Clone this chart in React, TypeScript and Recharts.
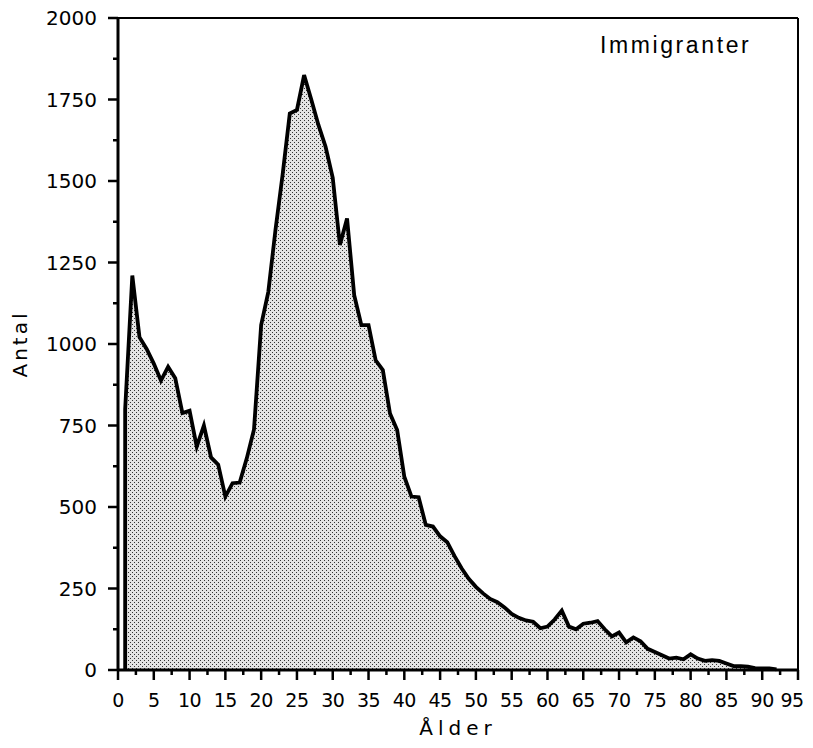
import React from "react";
import { Area, AreaChart, ReferenceLine, XAxis, YAxis } from "recharts";

// Ålder (ettårsklasser) och antal immigranter
const AGES = [
  1, 2, 3, 4, 5, 6, 7, 8, 9, 10, 11, 12, 13, 14, 15, 16, 17, 18, 19, 20,
  21, 22, 23, 24, 25, 26, 27, 28, 29, 30, 31, 32, 33, 34, 35, 36, 37, 38, 39, 40,
  41, 42, 43, 44, 45, 46, 47, 48, 49, 50, 51, 52, 53, 54, 55, 56, 57, 58, 59, 60,
  61, 62, 63, 64, 65, 66, 67, 68, 69, 70, 71, 72, 73, 74, 75, 76, 77, 78, 79, 80,
  81, 82, 83, 84, 85, 86, 87, 88, 89, 90, 91, 92,
];

const ANTAL = [
  800, 1210, 1021, 985, 940, 888, 930, 895, 788, 795,
  685, 750, 652, 630, 532, 573, 575, 650, 738, 1058,
  1160, 1350, 1520, 1707, 1718, 1825, 1750, 1672, 1605, 1510,
  1304, 1385, 1150, 1058, 1058, 950, 920, 787, 736, 593,
  532, 530, 445, 440, 410, 392, 350, 312, 280, 255,
  235, 218, 208, 192, 172, 160, 152, 148, 128, 133,
  155, 182, 133, 125, 142, 145, 150, 125, 103, 115,
  85, 100, 88, 65, 55, 45, 35, 38, 33, 48,
  35, 28, 30, 28, 20, 12, 12, 10, 6, 5,
  5, 2,
];

const X_TICKS = [
  0, 2.5, 5, 7.5, 10, 12.5, 15, 17.5, 20, 22.5, 25, 27.5, 30, 32.5, 35, 37.5,
  40, 42.5, 45, 47.5, 50, 52.5, 55, 57.5, 60, 62.5, 65, 67.5, 70, 72.5, 75,
  77.5, 80, 82.5, 85, 87.5, 90, 92.5, 95,
];

const Y_TICKS = [
  0, 125, 250, 375, 500, 625, 750, 875, 1000, 1125, 1250, 1375, 1500, 1625,
  1750, 1875, 2000,
];

// ytan stängs mot nollan vid första åldern
const data = [
  { alder: AGES[0], antal: 0 },
  ...AGES.map((a, i) => ({ alder: a, antal: ANTAL[i] })),
];

const FONT = "'DejaVu Sans', sans-serif";

function XTick(props: any) {
  const { x, y, payload } = props;
  const major = payload.value % 5 === 0;
  // sista etiketten hålls innanför kanten
  const last = payload.value === X_TICKS[X_TICKS.length - 1];
  return (
    <g>
      <line x1={x} y1={y} x2={x} y2={y + (major ? 10 : 5)} stroke="#000" strokeWidth={2.5} />
      {major && (
        <text
          x={x}
          y={y + 37}
          dx={last ? -6 : 0}
          textAnchor="middle"
          fontFamily={FONT}
          fontSize={19}
          letterSpacing={-0.5}
          fill="#000"
        >
          {payload.value}
        </text>
      )}
    </g>
  );
}

function YTick(props: any) {
  const { x, y, payload } = props;
  const major = payload.value % 250 === 0;
  return (
    <g>
      <line x1={x} y1={y} x2={x - (major ? 10 : 5)} y2={y} stroke="#000" strokeWidth={2.5} />
      {major && (
        <text x={x - 21} y={y + 7} textAnchor="end" fontFamily={FONT} fontSize={20} fill="#000">
          {payload.value}
        </text>
      )}
    </g>
  );
}

export default function App() {
  return (
    <div style={{ width: 813, height: 740, margin: "-8px 0 0 -8px" }}>
      <AreaChart
        width={813}
        height={740}
        data={data}
        margin={{ top: 18, right: 15, bottom: 0, left: 8 }}
      >
        <defs>
          <pattern id="dots" width="4" height="4" patternUnits="userSpaceOnUse">
            <rect width="4" height="4" fill="#e4e4e4" />
            <rect x="0" y="0" width="1" height="1" fill="#333" />
            <rect x="2" y="2" width="1" height="1" fill="#333" />
          </pattern>
        </defs>
        <XAxis
          type="number"
          dataKey="alder"
          domain={[0, 95]}
          ticks={X_TICKS}
          interval={0}
          height={70}
          tickLine={false}
          tickSize={0}
          tickMargin={0}
          tick={<XTick />}
          axisLine={{ stroke: "#000", strokeWidth: 3 }}
        />
        <YAxis
          type="number"
          domain={[0, 2000]}
          ticks={Y_TICKS}
          interval={0}
          width={110}
          tickLine={false}
          tickSize={0}
          tickMargin={0}
          tick={<YTick />}
          axisLine={{ stroke: "#000", strokeWidth: 3 }}
        />
        <ReferenceLine y={2000} stroke="#000" strokeWidth={2} />
        <ReferenceLine x={95} stroke="#000" strokeWidth={2} />
        <Area
          type="linear"
          dataKey="antal"
          stroke="#000"
          strokeWidth={3.8}
          fill="url(#dots)"
          fillOpacity={1}
          dot={false}
          activeDot={false}
          isAnimationActive={false}
        />
        <text x={600} y={53} fontFamily="'Liberation Sans', Arial, sans-serif" fontSize={23} letterSpacing={2.6} fill="#000">
          Immigranter
        </text>
        <text
          x={27}
          y={344}
          transform="rotate(-90 27 344)"
          textAnchor="middle"
          fontFamily={FONT}
          fontSize={20}
          letterSpacing={3}
          fill="#000"
        >
          Antal
        </text>
        <text x={458} y={735} textAnchor="middle" fontFamily={FONT} fontSize={20} letterSpacing={5} fill="#000">
          Ålder
        </text>
      </AreaChart>
    </div>
  );
}
